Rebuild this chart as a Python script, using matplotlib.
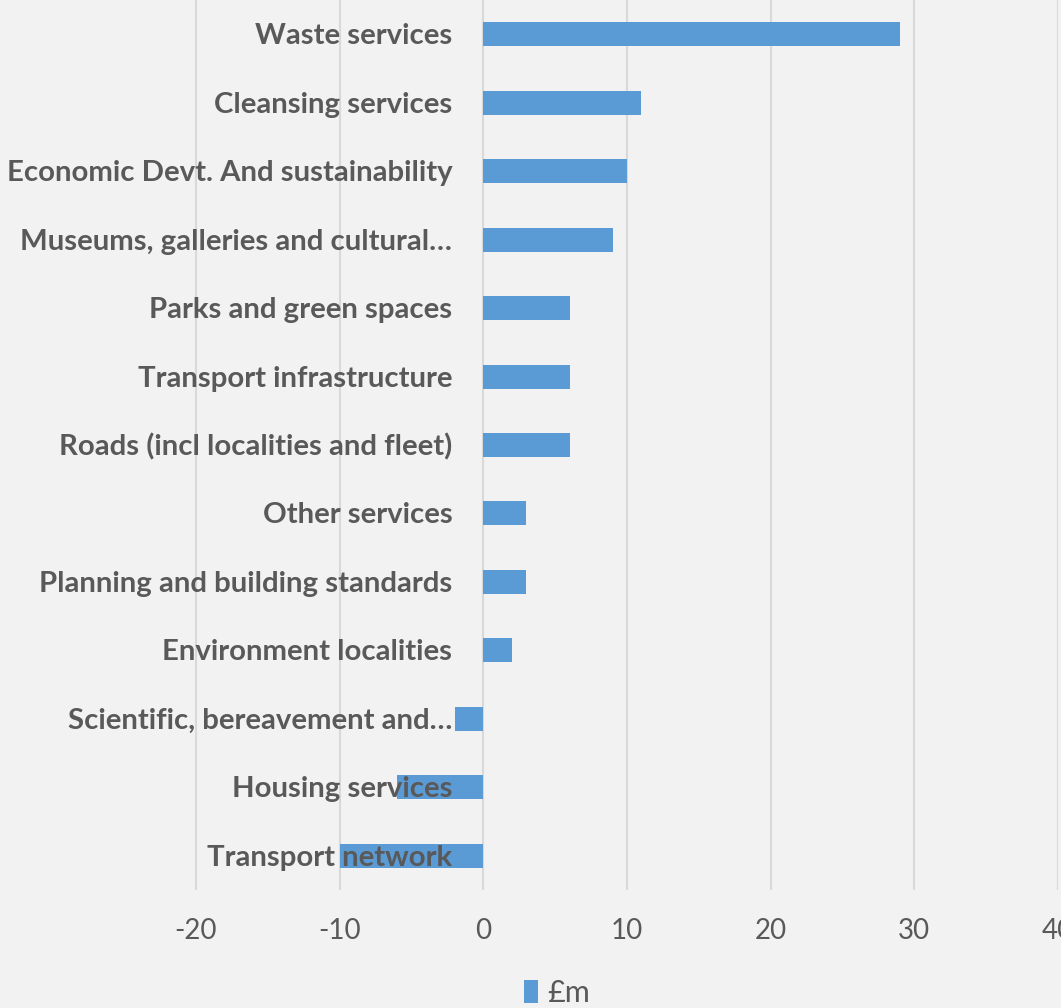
import matplotlib
matplotlib.use("Agg")
import matplotlib.pyplot as plt
from matplotlib.patches import Patch

categories = [
    "Waste services",
    "Cleansing services",
    "Economic Devt. And sustainability",
    "Museums, galleries and cultural\u2026",
    "Parks and green spaces",
    "Transport infrastructure",
    "Roads (incl localities and fleet)",
    "Other services",
    "Planning and building standards",
    "Environment localities",
    "Scientific, bereavement and\u2026",
    "Housing services",
    "Transport network",
]
values = [29, 11, 10, 9, 6, 6, 6, 3, 3, 2, -2, -6, -10]
xticks = [-20, -10, 0, 10, 20, 30, 40]
series_name = "£m"

BG = "#f2f2f2"
BAR = "#5b9bd5"
TXT = "#595959"
GRID = "#d9d9d9"
FONT = ["Lato", "DejaVu Sans"]

W, H = 1061, 1008
fig = plt.figure(figsize=(W / 100, H / 100), dpi=100, facecolor=BG)
ax = fig.add_axes([0, 1 - 890 / H, 1058 / W, 890 / H], facecolor=BG)

n = len(categories)
ypos = list(range(n))
ax.barh(ypos, values, height=0.35, color=BAR, zorder=2)
ax.set_ylim(n - 0.5, -0.5)
ax.set_xlim(-20 - 196 / 14.37, 40)
ax.set_xticks(xticks)
ax.set_xticklabels([str(t) for t in xticks], fontsize=20, color=TXT, family=FONT)
ax.tick_params(axis="x", length=0, pad=20)
ax.set_yticks([])
ax.grid(axis="x", color=GRID, linewidth=1.5, zorder=0)
ax.set_axisbelow(True)
for s in ax.spines.values():
    s.set_visible(False)

for y, c in zip(ypos, categories):
    ax.annotate(c, xy=(0, y), xytext=(-31, -2), textcoords="offset pixels",
                ha="right", va="center", fontsize=21.2, fontweight="bold",
                color=TXT, family=FONT, zorder=5)

fig.legend(handles=[Patch(facecolor=BAR, label=series_name)], loc="center",
           bbox_to_anchor=(557 / W, 1 - 993 / H), frameon=False,
           prop={"family": FONT, "size": 22}, labelcolor=TXT,
           handlelength=0.45, handleheight=0.75, handletextpad=0.3)

fig.savefig("out.png", dpi=100, facecolor=BG)
